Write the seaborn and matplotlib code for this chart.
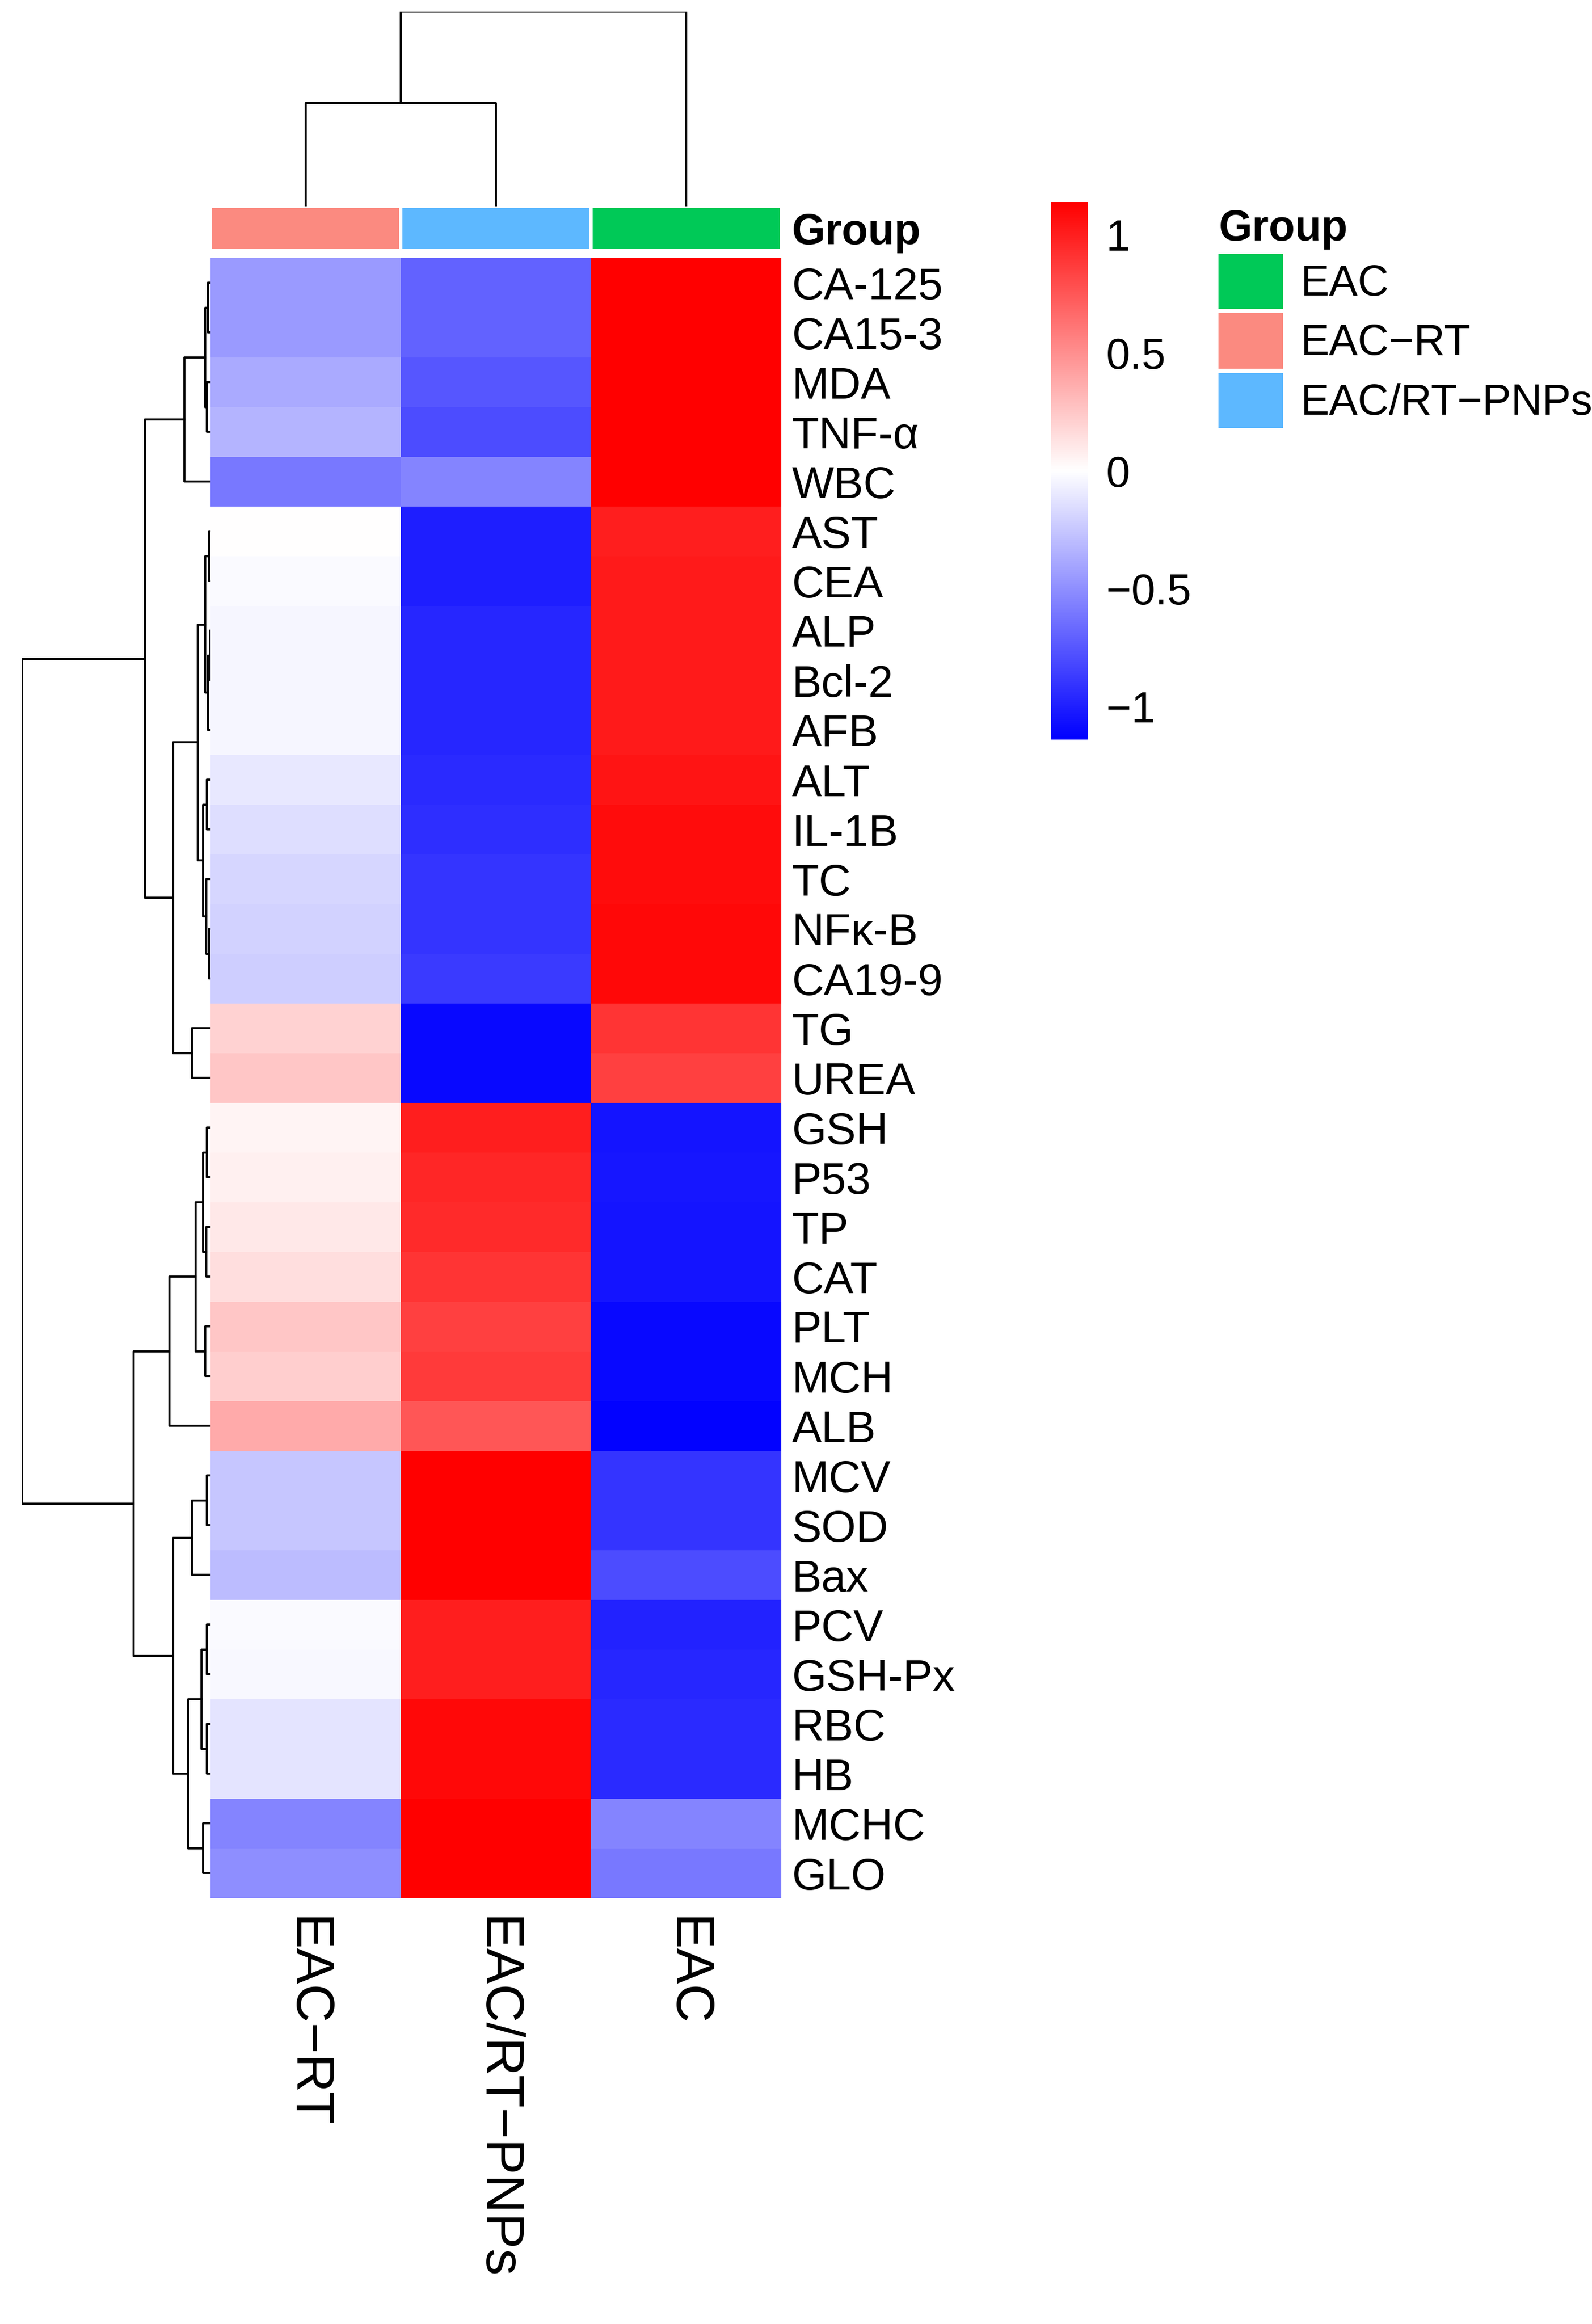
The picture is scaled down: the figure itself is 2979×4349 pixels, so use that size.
import numpy as np
import pandas as pd
import matplotlib
matplotlib.use("Agg")
import matplotlib.pyplot as plt
import seaborn as sns
from matplotlib.colors import LinearSegmentedColormap, ListedColormap
from matplotlib.patches import Patch

plt.rcParams["font.family"] = "Liberation Sans"

rows = ["CA-125", "CA15-3", "MDA", "TNF-α", "WBC", "AST", "CEA", "ALP", "Bcl-2", "AFB",
        "ALT", "IL-1B", "TC", "NFκ-B", "CA19-9", "TG", "UREA", "GSH", "P53", "TP", "CAT",
        "PLT", "MCH", "ALB", "MCV", "SOD", "Bax", "PCV", "GSH-Px", "RBC", "HB", "MCHC", "GLO"]
groups = ["EAC-RT", "EAC/RT-PNPs", "EAC"]
eac_rt = [-0.45, -0.45, -0.38, -0.33, -0.6, 0.0, -0.02, -0.04, -0.04, -0.04, -0.1, -0.15, -0.18,
          -0.2, -0.22, 0.2, 0.25, 0.05, 0.07, 0.1, 0.15, 0.25, 0.22, 0.38, -0.25, -0.25, -0.3,
          -0.02, -0.03, -0.12, -0.12, -0.55, -0.5]
eac_rt_pnps = [-0.7, -0.7, -0.75, -0.8, -0.55, -1.0, -1.0, -0.97, -0.97, -0.97, -0.95, -0.93,
               -0.9, -0.9, -0.88, -1.1, -1.1, 1.0, 0.97, 0.95, 0.9, 0.85, 0.88, 0.75, 1.15, 1.15,
               1.15, 1.0, 1.0, 1.1, 1.1, 1.15, 1.15]
eac = [1.15, 1.15, 1.15, 1.15, 1.15, 1.0, 1.02, 1.02, 1.02, 1.02, 1.05, 1.08, 1.08, 1.1, 1.1,
       0.9, 0.85, -1.05, -1.04, -1.05, -1.05, -1.1, -1.1, -1.13, -0.9, -0.9, -0.8, -0.98, -0.97,
       -0.95, -0.95, -0.55, -0.6]
group_colors = ["#FB8A80", "#5DB8FF", "#00C957"]
legend_order = ["EAC", "EAC-RT", "EAC/RT-PNPs"]

# dendrogram trees: (height, left, right); leaves are row/column indices
row_tree = (1.0,
            (0.35,
             (0.14, (0.03, (0.015, 0, 1), (0.02, 2, 3)), 4),
             (0.2,
              (0.07, (0.03, (0.01, 5, 6), (0.015, (0.005, 7, 8), 9)),
               (0.04, (0.02, 10, 11), (0.025, 12, (0.01, 13, 14)))),
              (0.1, 15, 16))),
            (0.41,
             (0.22,
              (0.08, (0.04, (0.02, 17, 18), (0.025, 19, 20)), (0.03, 21, 22)),
              23),
             (0.2,
              (0.1, (0.02, 24, 25), 26),
              (0.12, (0.05, (0.02, 27, 28), (0.02, 29, 30)), (0.04, 31, 32)))))
col_tree = (1.0, (0.53, 0, 1), 2)

df = pd.DataFrame({"EAC-RT": eac_rt, "EAC/RT-PNPs": eac_rt_pnps, "EAC": eac}, index=rows)[groups]

W, H = 2979, 4349
fig = plt.figure(figsize=(W / 100, H / 100), dpi=100)
def fx(x): return x / 1080
def fy(y): return 1 - y / 1577

cmap = LinearSegmentedColormap.from_list("bwr2", ["#0000FF", "#FFFFFF", "#FF0000"])
vmin, vmax = -1.14, 1.14

ax = fig.add_axes([fx(143), fy(1288), fx(530) - fx(143), fy(175) - fy(1288)])
sns.heatmap(df, ax=ax, cmap=cmap, vmin=vmin, vmax=vmax, cbar=False)
ax.yaxis.tick_right()
ax.set_yticks(np.arange(len(rows)) + 0.5)
ax.set_yticklabels(rows, rotation=0, fontsize=60)
ax.set_xticklabels([g.replace("-", "\u2212") for g in groups], rotation=270, fontsize=72, va="top")
ax.tick_params(length=0, pad=14)
ax.tick_params(axis="x", pad=25)
ax.set_xlabel(""); ax.set_ylabel("")

axg = fig.add_axes([fx(143), fy(170), fx(530) - fx(143), fy(140) - fy(170)])
sns.heatmap(pd.DataFrame([[0, 1, 2]]), ax=axg, cmap=ListedColormap(group_colors), cbar=False,
            linewidths=4, linecolor="white", vmin=-0.5, vmax=2.5)
axg.set_xticks([]); axg.yaxis.tick_right()
axg.set_yticks([0.5]); axg.set_yticklabels(["Group"], rotation=0, fontsize=58, fontweight="bold")
axg.tick_params(length=0, pad=14)
axg.set_xlabel(""); axg.set_ylabel("")

def draw(axd, tree, orient):
    def rec(t):
        if isinstance(t, int):
            return t + 0.5, 0.0
        h, a, b = t
        pa, ha = rec(a); pb, hb = rec(b)
        if orient == "row":
            axd.plot([ha, h, h, hb], [pa, pa, pb, pb], color="black", lw=2.8)
        else:
            axd.plot([pa, pa, pb, pb], [ha, h, h, hb], color="black", lw=2.8)
        return (pa + pb) / 2, h
    rec(tree)

axr = fig.add_axes([fx(15), fy(1288), fx(143) - fx(15), fy(175) - fy(1288)])
draw(axr, row_tree, "row")
axr.set_xlim(1.0, 0); axr.set_ylim(len(rows), 0); axr.axis("off")

axc = fig.add_axes([fx(143), fy(140), fx(530) - fx(143), fy(8) - fy(140)])
draw(axc, col_tree, "col")
axc.set_xlim(0, 3); axc.set_ylim(0, 1.0); axc.axis("off")

cax = fig.add_axes([fx(713), fy(502), fx(738) - fx(713), fy(137) - fy(502)])
sm = plt.cm.ScalarMappable(cmap=cmap, norm=plt.Normalize(vmin, vmax))
cb = fig.colorbar(sm, cax=cax, ticks=[-1, -0.5, 0, 0.5, 1])
cb.ax.set_yticklabels(["\u22121", "\u22120.5", "0", "0.5", "1"], fontsize=58)
cb.outline.set_visible(False)
cb.ax.tick_params(length=0, pad=25)

handles = [Patch(facecolor=group_colors[groups.index(g)], label=g.replace("-", "\u2212")) for g in legend_order]
leg = fig.legend(handles=handles, title="Group", loc="upper left",
                 bbox_to_anchor=(fx(815), fy(130)), frameon=False, fontsize=58,
                 title_fontproperties={"weight": "bold", "size": 58},
                 handlelength=1.5, handleheight=1.6, handletextpad=0.4, labelspacing=0.1,
                 borderaxespad=0)
leg._legend_box.align = "left"

fig.savefig("out.png", dpi=100, facecolor="white")
